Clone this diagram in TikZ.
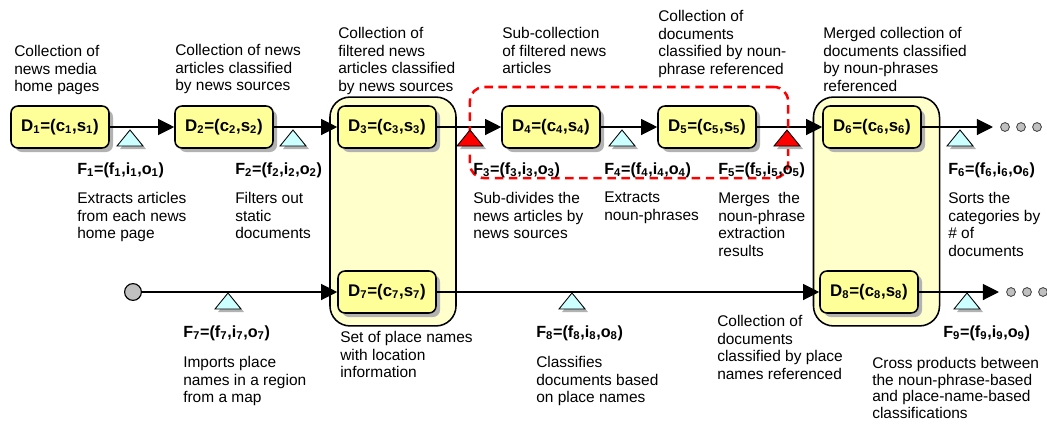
\documentclass[tikz,border=0pt]{standalone}
\usepackage{fontspec}
\setmainfont{Liberation Sans}
\usetikzlibrary{arrows.meta,shadows}
\definecolor{dfill}{RGB}{255,255,153}
\definecolor{bigfill}{RGB}{255,255,204}
\definecolor{trifill}{RGB}{204,255,255}
\definecolor{dotfill}{RGB}{192,192,192}
\newcommand{\functri}[3]{%
  \fill [gray!60] (#1+3,#2+3) -- ++(-13,16) -- ++(26,0) -- cycle;
  \filldraw [fill=#3, draw=black, line width=0.6pt] (#1,#2) -- ++(-13,16) -- ++(26,0) -- cycle;}
\newcommand{\sub}[1]{\textsubscript{#1}}

\begin{document}
\begin{tikzpicture}[x=0.025cm, y=-0.025cm,
	every node/.style={inner sep=0pt, font=\fontsize{11}{12.5}\selectfont},
	dbox/.style={draw, line width=1.1pt, fill=dfill, rounded corners=5pt,
		minimum width=2.45cm, minimum height=1.05cm,
		font=\fontsize{12}{14}\selectfont\bfseries,
		drop shadow={shadow xshift=0.1cm, shadow yshift=-0.1cm, fill=gray!60, opacity=1}},
	bigbox/.style={draw, line width=1.1pt, fill=bigfill, rounded corners=0.5cm,
		minimum width=3.15cm, minimum height=5.72cm},
	flabel/.style={anchor=base west, font=\fontsize{11.5}{13}\selectfont\bfseries},
	desc/.style={anchor=north west, align=left},
	flow/.style={line width=0.8pt, -{Triangle[length=0.4cm, width=0.4cm]}},
	enddot/.style={circle, draw=gray!50!black, fill=dotfill, line width=0.6pt, minimum size=0.22cm}]
	\useasboundingbox (0,0) rectangle (1047,423);

	\node [bigbox] (bigA) at (393,211.5) {};
	\node [bigbox] (bigB) at (876.5,211.5) {};

	\node [dbox] (D1) at (60,127) {D\sub{1}=(c\sub{1},s\sub{1})};
	\node [dbox] (D2) at (224,127) {D\sub{2}=(c\sub{2},s\sub{2})};
	\node [dbox] (D3) at (387,127) {D\sub{3}=(c\sub{3},s\sub{3})};
	\node [dbox] (D4) at (551,127) {D\sub{4}=(c\sub{4},s\sub{4})};
	\node [dbox] (D5) at (707,127) {D\sub{5}=(c\sub{5},s\sub{5})};
	\node [dbox] (D6) at (872,127) {D\sub{6}=(c\sub{6},s\sub{6})};
	\node [dbox] (D7) at (387,292) {D\sub{7}=(c\sub{7},s\sub{7})};
	\node [dbox] (D8) at (869,292) {D\sub{8}=(c\sub{8},s\sub{8})};

	\node [enddot] (dotA1) at (1005,127) {};
	\node [enddot] (dotA2) at (1021,127) {};
	\node [enddot] (dotA3) at (1037,127) {};
	\node [enddot] (dotB1) at (1011,292) {};
	\node [enddot] (dotB2) at (1027,292) {};
	\node [enddot] (dotB3) at (1043,292) {};
	\node [circle, draw, fill=dotfill, line width=0.8pt, minimum size=0.42cm] (src) at (133,292) {};

	\draw [flow] (D1) -- (D2);
	\draw [flow] (D2) -- (D3);
	\draw [flow] (D3) -- (D4);
	\draw [flow] (D4) -- (D5);
	\draw [flow] (D5) -- (D6);
	\draw [flow, shorten >=0.18cm] (D6) -- (dotA1);
	\draw [flow] (src) -- (D7);
	\draw [flow] (D7) -- (D8);
	\draw [flow, shorten >=0.18cm] (D8) -- (dotB1);

	\node [draw=red, dash pattern=on 6pt off 4pt, line width=1.8pt, rounded corners=0.35cm,
		minimum width=7.95cm, minimum height=2.275cm] (focus) at (629,132.5) {};

	\functri{130}{130}{trifill}
	\functri{293}{130}{trifill}
	\functri{470}{130}{red}
	\functri{622}{130}{trifill}
	\functri{787}{130}{red}
	\functri{960}{130}{trifill}
	\functri{228}{293}{trifill}
	\functri{572}{293}{trifill}
	\functri{967}{293}{trifill}

	\node [desc] (nD1) at (14,45) {Collection of\\news media\\home pages};
	\node [desc] (nD2) at (175,44) {Collection of news\\articles classified\\by news sources};
	\node [desc] (nD3) at (338,27) {Collection of\\filtered news\\articles classified\\by news sources};
	\node [desc] (nD4) at (502,27) {Sub-collection\\of filtered news\\articles};
	\node [desc] (nD5) at (658,10) {Collection of\\documents\\classified by noun-\\phrase referenced};
	\node [desc] (nD6) at (823,27) {Merged collection of\\documents classified\\by noun-phrases\\referenced};
	\node [desc] (nD7) at (340,331) {Set of place names\\with location\\information};
	\node [desc] (nD8) at (717,315) {Collection of\\documents\\classified by place\\names referenced};

	\node [flabel] (F1) at (77,174) {F\sub{1}=(f\sub{1},i\sub{1},o\sub{1})};
	\node [flabel] (F2) at (235,174) {F\sub{2}=(f\sub{2},i\sub{2},o\sub{2})};
	\node [flabel] (F3) at (473,174) {F\sub{3}=(f\sub{3},i\sub{3},o\sub{3})};
	\node [flabel] (F4) at (604,174) {F\sub{4}=(f\sub{4},i\sub{4},o\sub{4})};
	\node [flabel] (F5) at (718,174) {F\sub{5}=(f\sub{5},i\sub{5},o\sub{5})};
	\node [flabel] (F6) at (948,174) {F\sub{6}=(f\sub{6},i\sub{6},o\sub{6})};
	\node [flabel] (F7) at (183,337) {F\sub{7}=(f\sub{7},i\sub{7},o\sub{7})};
	\node [flabel] (F8) at (536,337) {F\sub{8}=(f\sub{8},i\sub{8},o\sub{8})};
	\node [flabel] (F9) at (943,337) {F\sub{9}=(f\sub{9},i\sub{9},o\sub{9})};

	\node [desc] (nF1) at (77,192) {Extracts articles\\from each news\\home page};
	\node [desc] (nF2) at (235,192) {Filters out\\static\\documents};
	\node [desc] (nF3) at (473,192) {Sub-divides the\\news articles by\\news sources};
	\node [desc] (nF4) at (604,192) {Extracts\\noun-phrases};
	\node [desc] (nF5) at (718,192) {Merges\ \ the\\noun-phrase\\extraction\\results};
	\node [desc] (nF6) at (948,192) {Sorts the\\categories by\\\# of\\documents};
	\node [desc] (nF7) at (183,356) {Imports place\\names in a region\\from a map};
	\node [desc] (nF8) at (536,356) {Classifies\\documents based\\on place names};
	\node [desc, font=\fontsize{11}{11.8}\selectfont] (nF9) at (872,357) {Cross products between\\the noun-phrase-based\\and place-name-based\\classifications};
\end{tikzpicture}
\end{document}
